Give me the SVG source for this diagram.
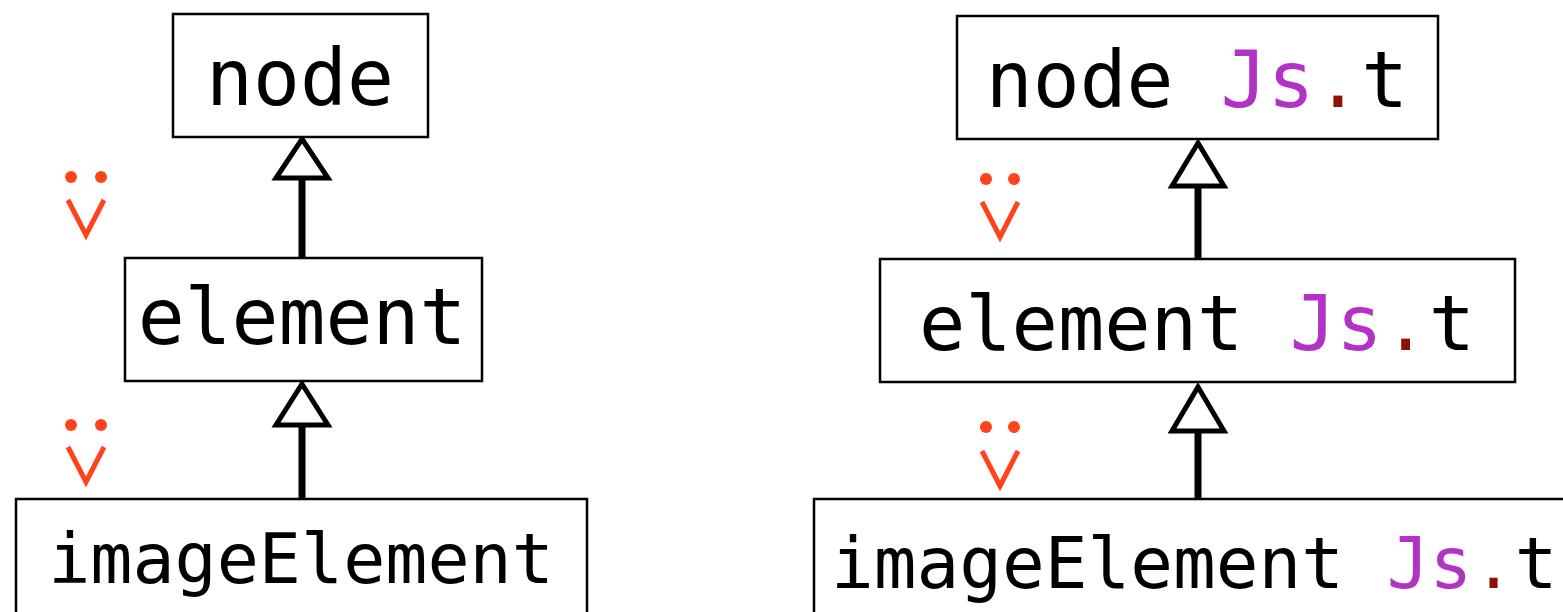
<svg xmlns="http://www.w3.org/2000/svg" width="1563" height="612" viewBox="0 0 1563 612">
<style>
.box{fill:#fff;stroke:#000;stroke-width:2.5}
.lbl{font-family:"DejaVu Sans Mono","Liberation Mono",monospace;fill:#000;text-anchor:middle}
.js{fill:#B332C6}
.dot{fill:#8E1200;font-family:"Liberation Mono","DejaVu Sans Mono",monospace}
.shaft{stroke:#000;stroke-width:7;fill:none}
.head{fill:#fff;stroke:#000;stroke-width:5;stroke-linejoin:miter}
.sm circle{fill:#FF431A}
.sm polyline{fill:none;stroke:#FF431A;stroke-width:5;stroke-linejoin:miter}
</style>
<rect width="1563" height="612" fill="#fff"/>
<g id="connectors">
  <line class="shaft" x1="302" y1="260" x2="302" y2="176"/>
  <polygon class="head" points="302,139 328,178 276,178"/>
  <line class="shaft" x1="302" y1="501" x2="302" y2="424"/>
  <polygon class="head" points="302,384 328,425 276,425"/>
  <line class="shaft" x1="1198" y1="262" x2="1198" y2="185"/>
  <polygon class="head" points="1198,143 1224,186 1172,186"/>
  <line class="shaft" x1="1198" y1="501" x2="1198" y2="430"/>
  <polygon class="head" points="1198,387 1224,431 1172,431"/>
</g>
<g id="node">
  <rect class="box" x="173" y="14" width="255" height="123"/>
  <text class="lbl" x="300" y="105" font-size="78">node</text>
</g>
<g id="element">
  <rect class="box" x="125" y="258" width="357" height="123"/>
  <text class="lbl" x="302" y="344" font-size="78">element</text>
</g>
<g id="imageElement">
  <rect class="box" x="16" y="499" width="571" height="130"/>
  <text class="lbl" x="301" y="583" font-size="70">imageElement</text>
</g>
<g id="nodeJs">
  <rect class="box" x="957" y="16" width="481" height="123"/>
  <text class="lbl" x="1197" y="107" font-size="78">node <tspan class="js">Js</tspan><tspan class="dot">.</tspan>t</text>
</g>
<g id="elementJs">
  <rect class="box" x="880" y="259" width="635" height="123"/>
  <text class="lbl" x="1197" y="350" font-size="77">element <tspan class="js">Js</tspan><tspan class="dot">.</tspan>t</text>
</g>
<g id="imageElementJs">
  <rect class="box" x="814" y="499" width="780" height="130"/>
  <text class="lbl" x="831" y="588" font-size="71" style="text-anchor:start">imageElement <tspan class="js">Js</tspan><tspan class="dot">.</tspan>t</text>
</g>
<g id="smiley1" class="sm">
  <circle cx="71" cy="177" r="6"/><circle cx="101" cy="177" r="6"/>
  <polyline points="68,200 86,235 104,200"/>
</g>
<g id="smiley2" class="sm">
  <circle cx="71" cy="425" r="6"/><circle cx="101" cy="425" r="6"/>
  <polyline points="68,447 86,482 104,447"/>
</g>
<g id="smiley3" class="sm">
  <circle cx="986" cy="179" r="6"/><circle cx="1014" cy="179" r="6"/>
  <polyline points="982,202 1000,237 1018,202"/>
</g>
<g id="smiley4" class="sm">
  <circle cx="986" cy="427" r="6"/><circle cx="1014" cy="427" r="6"/>
  <polyline points="982,451 1000,486 1018,451"/>
</g>
</svg>
